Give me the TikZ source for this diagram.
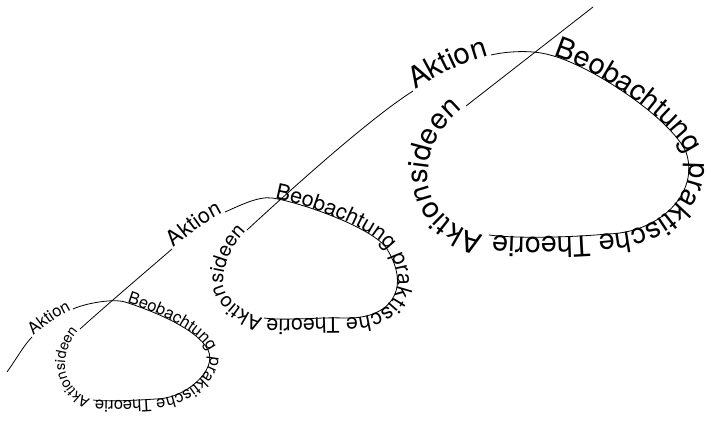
\documentclass[tikz,border=0pt]{standalone}
\usepackage{fontspec}
\setmainfont{TeX Gyre Heros}
\usetikzlibrary{decorations.text}
\tikzset{
  spiral/.style={draw=black, line width=0.8pt},
  word/.style 2 args={postaction={decorate, decoration={text along path, text align=center, text={|\fontsize{#1}{#1}\selectfont|#2}}}},
}
\begin{document}
\begin{tikzpicture}[x=1pt,y=-1pt]
\useasboundingbox (0,0) rectangle (711,425);
% loop 1
\coordinate (s1) at (7,372);
\coordinate (a1) at (32,337);
\coordinate (b1) at (73,309);
\coordinate (c1) at (125,302);
\coordinate (d1) at (208,350);
\coordinate (e1) at (156,399);
\coordinate (f1) at (93,400);
\coordinate (m1) at (65,366);
\coordinate (g1) at (80,329);
% loop 2
\coordinate (a2) at (172,249);
\coordinate (b2) at (225,212);
\coordinate (c2) at (272,198);
\coordinate (d2) at (387,249);
\coordinate (e2) at (343,318);
\coordinate (f2) at (264,318);
\coordinate (m2) at (223,282);
\coordinate (g2) at (247,230);
% loop 3
\coordinate (a3) at (413,91);
\coordinate (b3) at (491,55);
\coordinate (c3) at (550,55);
\coordinate (d3) at (686,152);
\coordinate (e3) at (607,234);
\coordinate (f3) at (489,235);
\coordinate (m3) at (428,172);
\coordinate (g3) at (466,106);
\coordinate (z3) at (593,7);

% loop 1
\draw[spiral] (s1) .. controls (17,358) and (24,345) .. (a1);
\path[word={16.5}{Aktion}] (a1) .. controls (45,326) and (58,316) .. (b1);
\draw[spiral] (b1) .. controls (85,303.4) and (113,298.3) .. (c1);
\draw[spiral, word={16.5}{Beobachtung praktische Theorie}] (c1) .. controls (149,309.5) and (197,328) .. (d1) .. controls (218,370) and (185,399) .. (e1) .. controls (140,400) and (108,402) .. (f1);
\path[word={14.5}{Aktionsideen}] (f1) .. controls (81,398.5) and (65,382) .. (m1) .. controls (65,350) and (72.6,335.7) .. (g1);
\draw[spiral] (g1) .. controls (102,309) and (150,268) .. (a2);
% loop 2
\path[word={21.5}{Aktion}] (a2) .. controls (190,234) and (207,220) .. (b2);
\draw[spiral] (b2) .. controls (239,206) and (258,196) .. (c2);
\draw[spiral, word={21.5}{Beobachtung praktische Theorie}] (c2) .. controls (300,202) and (374,228) .. (d2) .. controls (412,290) and (390,320) .. (e2) .. controls (320,317) and (286,321) .. (f2);
\path[word={20}{Aktionsideen}] (f2) .. controls (250,316) and (223,300) .. (m2) .. controls (223,262) and (236,240) .. (g2);
\draw[spiral] (g2) .. controls (299,182) and (372,117) .. (a3);
% loop 3
\path[word={29.3}{Aktion}] (a3) .. controls (438,76) and (465,61) .. (b3);
\draw[spiral] (b3) .. controls (506,51.5) and (531,49.5) .. (c3);
\draw[spiral, word={28.7}{Beobachtung praktische Theorie}] (c3) .. controls (593,66) and (671,119) .. (d3) .. controls (700,193) and (660,233) .. (e3) .. controls (577,237) and (519,239) .. (f3);
\path[word={29}{Aktionsideen}] (f3) .. controls (461,233) and (425,210) .. (m3) .. controls (430,140) and (446.5,121.5) .. (g3);
\draw[spiral] (g3) -- (z3);
\end{tikzpicture}
\end{document}
